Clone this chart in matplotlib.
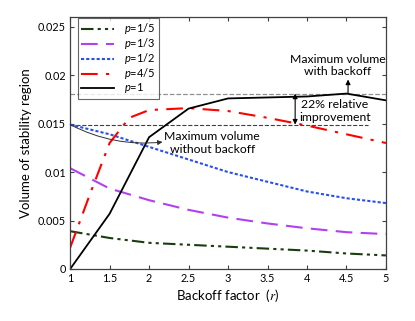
import matplotlib
matplotlib.use("Agg")
import matplotlib.pyplot as plt

plt.rcParams['font.family'] = ['Lato', 'DejaVu Sans']
plt.rcParams['mathtext.fontset'] = 'custom'
plt.rcParams['mathtext.it'] = 'Lato:italic'
plt.rcParams['mathtext.rm'] = 'Lato'
plt.rcParams['mathtext.cal'] = 'STIXGeneral:italic'

# data
r_main = [1, 1.5, 2, 2.5, 3, 3.5, 4, 4.5, 5]
vol_p15 = [0.0039, 0.0032, 0.0027, 0.0025, 0.0023, 0.0021, 0.0019, 0.0016, 0.0014]
vol_p13 = [0.0104, 0.0083, 0.0071, 0.0061, 0.0053, 0.0047, 0.0042, 0.0038, 0.0036]
vol_p12 = [0.0149, 0.0139, 0.0126, 0.0113, 0.0100, 0.0090, 0.0080, 0.0073, 0.0068]
r_p45 = [1, 1.25, 1.5, 1.75, 2, 2.5, 3, 3.5, 4, 4.5, 5]
vol_p45 = [0.0022, 0.0077, 0.0130, 0.0156, 0.0164, 0.0166, 0.0163, 0.0156, 0.0148, 0.0139, 0.0130]
vol_p1 = [0.0, 0.0057, 0.0136, 0.01655, 0.0176, 0.0177, 0.0178, 0.0181, 0.0174]

max_with = 0.0181
max_without = 0.0149

fig = plt.figure(figsize=(4.15, 3.21), dpi=100)
ax = fig.add_axes([0.169, 0.162, 0.761, 0.785])

ax.plot(r_main, vol_p15, color='#1a3d10', lw=1.5, dashes=[6, 2, 1.5, 2, 1.5, 2], label='$p$=1/5')
ax.plot(r_main, vol_p13, color='#b040f0', lw=1.5, dashes=[8, 4], label='$p$=1/3')
ax.plot(r_main, vol_p12, color='#2850f0', lw=1.5, dashes=[1.5, 1], label='$p$=1/2')
ax.plot(r_p45, vol_p45, color='red', lw=1.5, dashes=[8, 4, 1.5, 4], label='$p$=4/5')
ax.plot(r_main, vol_p1, color='black', lw=1.3, label='$p$=1')

ax.axhline(max_with, color='#909090', lw=0.9, ls='--', zorder=0)
ax.plot([1, 4.77], [max_without, max_without], color='#404040', lw=0.8, ls='--', zorder=0)

# 22% improvement arrow
ax.annotate('', xy=(3.85, max_without), xytext=(3.85, max_with),
            arrowprops=dict(arrowstyle='<|-|>', color='black', lw=0.8,
                            mutation_scale=7, shrinkA=0, shrinkB=0))
ax.text(4.35, 0.0163, '22% relative\nimprovement', ha='center', va='center',
        fontsize=8.8, linespacing=1.2)

# maximum with backoff
ax.annotate('', xy=(4.52, 0.01955), xytext=(4.52, max_with),
            arrowprops=dict(arrowstyle='-|>', color='black', lw=0.8,
                            mutation_scale=7, shrinkA=0, shrinkB=0))
ax.text(4.39, 0.0210, 'Maximum volume\nwith backoff', ha='center', va='center',
        fontsize=8.8, linespacing=1.2)

# maximum without backoff
ax.annotate('', xy=(2.17, 0.0131), xytext=(1.0, 0.0149),
            arrowprops=dict(arrowstyle='-|>', color='#303030', lw=0.7,
                            mutation_scale=7, shrinkA=0, shrinkB=0,
                            connectionstyle='arc3,rad=0.15'))
ax.text(2.8, 0.0130, 'Maximum volume\nwithout backoff', ha='center', va='center',
        fontsize=8.8, linespacing=1.2)

ax.set_xlim(1, 5)
ax.set_ylim(0, 0.026)
ax.set_xticks([1, 1.5, 2, 2.5, 3, 3.5, 4, 4.5, 5])
ax.set_xticklabels(['1', '1.5', '2', '2.5', '3', '3.5', '4', '4.5', '5'])
ax.set_yticks([0, 0.005, 0.01, 0.015, 0.02, 0.025])
ax.set_yticklabels(['0', '0.005', '0.01', '0.015', '0.02', '0.025'])
ax.tick_params(direction='in', top=True, right=True, labelsize=7.8,
               length=3, color='#404040', pad=3)
for s in ax.spines.values():
    s.set_color('#404040')
    s.set_linewidth(0.9)

ax.set_xlabel(r'Backoff factor  ($\mathcal{r}$)', fontsize=9.5, labelpad=2)
ax.set_ylabel('Volume of stability region', fontsize=9.5, labelpad=4)

leg = ax.legend(loc='upper left', bbox_to_anchor=(0.02, 1.0), fontsize=8,
                handlelength=3.0, frameon=True, fancybox=False,
                edgecolor='#404040', borderaxespad=0.1, labelspacing=0.0,
                handletextpad=0.9, borderpad=0.3)
leg.get_frame().set_linewidth(0.8)

fig.savefig('out.png', dpi=100)
